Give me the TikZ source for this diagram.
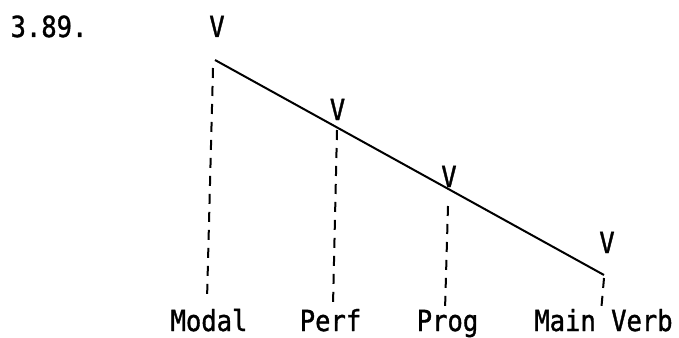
\documentclass[tikz,border=0pt]{standalone}
\usepackage{fontspec}
\newfontfamily\tw[FakeStretch=0.88,FakeBold=1.2]{DejaVu Sans Mono}
\begin{document}
\begin{tikzpicture}[x=1pt,y=-1pt,
  lbl/.style={font=\tw\fontsize{29}{32}\selectfont, inner sep=0pt, anchor=base},
  branch/.style={line width=2pt},
  dashline/.style={line width=2pt, dash pattern=on 10pt off 8pt}]
\useasboundingbox (0,0) rectangle (679,337);
% labels
\node[lbl] (num) at (49,37) {3.89.};
\node[lbl] (v1) at (217,37) {V};
\node[lbl] (v2) at (337.5,120) {V};
\node[lbl] (v3) at (449,187) {V};
\node[lbl] (v4) at (607,253) {V};
\node[lbl] (modal) at (209,331) {Modal};
\node[lbl] (perf) at (330.5,331) {Perf};
\node[lbl] (prog) at (447.5,331) {Prog};
\node[lbl] (main) at (603.5,331) {Main Verb};
% tree
\coordinate (p1) at (215,60);
\coordinate (p4) at (604,275);
\draw[branch] (p1) -- (p4);
% dashed association lines
\coordinate (a1) at (213,68);  \coordinate (b1) at (207,300);
\coordinate (a2) at (337,130); \coordinate (b2) at (333,305);
\coordinate (a3) at (448,206); \coordinate (b3) at (445,310);
\coordinate (a4) at (604,278); \coordinate (b4) at (601,312);
\draw[dashline] (a1) -- (b1);
\draw[dashline] (a2) -- (b2);
\draw[dashline] (a3) -- (b3);
\draw[dashline] (a4) -- (b4);
\end{tikzpicture}
\end{document}
